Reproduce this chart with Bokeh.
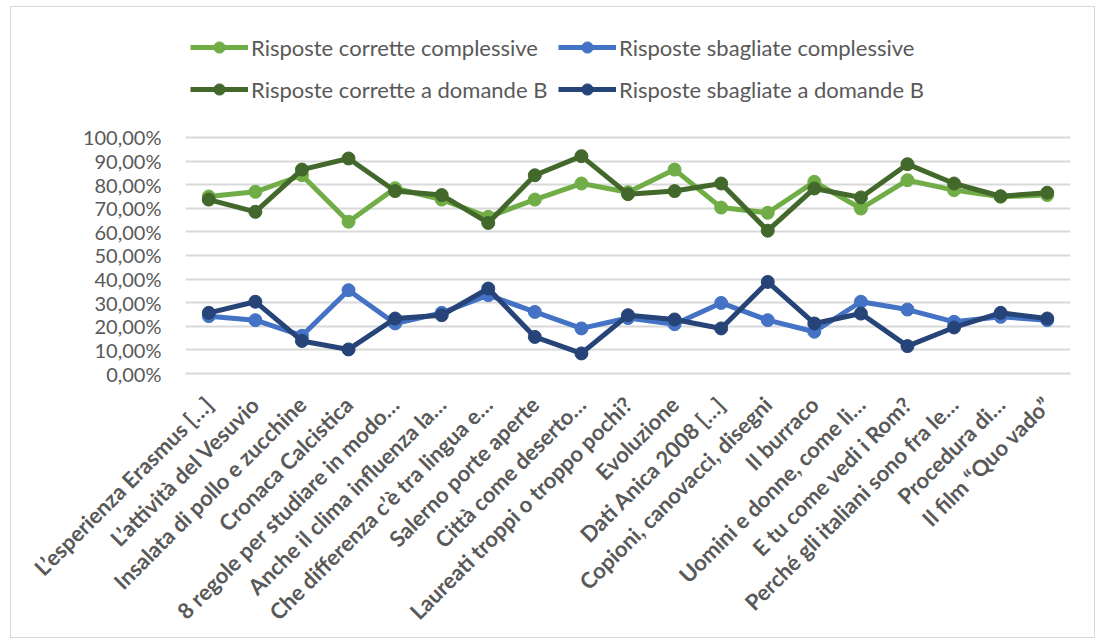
import math
from bokeh.plotting import figure
from bokeh.models import FactorRange, Range1d, FixedTicker, Legend, LegendItem
from bokeh.embed import file_html
from bokeh.resources import INLINE

categories = [
    "L’esperienza Erasmus […]",
    "L’attività del Vesuvio",
    "Insalata di pollo e zucchine",
    "Cronaca Calcistica",
    "8 regole per studiare in modo…",
    "Anche il clima influenza la…",
    "Che differenza c’è tra lingua e…",
    "Salerno porte aperte",
    "Città come deserto…",
    "Laureati troppi o troppo pochi?",
    "Evoluzione",
    "Dati Anica 2008 […]",
    "Copioni, canovacci, disegni",
    "Il burraco",
    "Uomini e donne, come li…",
    "E tu come vedi i Rom?",
    "Perché gli italiani sono fra le…",
    "Procedura di…",
    "Il film “Quo vado”",
]

corrette_complessive = [75.0, 77.0, 84.0, 64.3, 78.5, 73.7, 66.4, 73.7, 80.5, 76.8,
                        86.4, 70.3, 68.1, 81.2, 69.9, 81.9, 77.7, 74.9, 75.6]
sbagliate_complessive = [24.3, 22.6, 16.0, 35.3, 21.2, 25.7, 33.2, 26.1, 19.1, 23.5,
                         20.9, 29.9, 22.6, 17.7, 30.4, 27.1, 21.9, 24.0, 22.6]
corrette_B = [73.7, 68.5, 86.4, 91.1, 77.3, 75.6, 63.8, 84.0, 92.1, 76.0,
              77.3, 80.5, 60.5, 78.4, 74.6, 88.7, 80.5, 75.1, 76.6]
sbagliate_B = [25.7, 30.4, 13.8, 10.2, 23.3, 24.7, 36.0, 15.5, 8.5, 24.7,
               22.9, 19.1, 38.8, 21.2, 25.4, 11.6, 19.5, 25.7, 23.3]

series_names = ["Risposte corrette complessive", "Risposte sbagliate complessive",
                "Risposte corrette a domande B", "Risposte sbagliate a domande B"]
series_values = [corrette_complessive, sbagliate_complessive, corrette_B, sbagliate_B]
series_colors = ["#70AD47", "#4472C4", "#43682B", "#264478"]

ytick_values = [0, 10, 20, 30, 40, 50, 60, 70, 80, 90, 100]
ytick_labels = ["0,00%", "10,00%", "20,00%", "30,00%", "40,00%", "50,00%",
                "60,00%", "70,00%", "80,00%", "90,00%", "100,00%"]

# The frame extends above 100% so that the legend (drawn in the frame) is not clipped;
# only the 0-100% ticks / gridlines are shown.
p = figure(width=1083, height=630, output_backend="svg", toolbar_location=None,
           x_range=FactorRange(*categories), y_range=Range1d(0, 146.61),
           min_border_left=174, min_border_right=24, min_border_top=20,
           min_border_bottom=264)
p.margin = (7, 0, 0, 11)
p.styles = {"outline": "1.5px solid #D9D9D9"}
p.outline_line_color = None
p.background_fill_color = "white"
p.border_fill_color = "white"

p.xgrid.grid_line_color = None
p.ygrid.grid_line_color = "#D9D9D9"
p.ygrid.grid_line_width = 2

p.yaxis.ticker = FixedTicker(ticks=ytick_values)
p.yaxis.major_label_overrides = {v: l for v, l in zip(ytick_values, ytick_labels)}
p.yaxis.axis_line_color = None
p.yaxis.major_tick_line_color = None
p.yaxis.minor_tick_line_color = None
p.yaxis.major_tick_out = 0
p.yaxis.major_tick_in = 0
p.yaxis.major_label_standoff = 24
p.yaxis.major_label_text_font = "Lato"
p.yaxis.major_label_text_font_size = "20px"
p.yaxis.major_label_text_color = "#595959"

p.xaxis.axis_line_color = "#D9D9D9"
p.xaxis.axis_line_width = 2
p.xaxis.major_tick_line_color = None
p.xaxis.major_tick_out = 0
p.xaxis.major_tick_in = 0
p.xaxis.major_label_orientation = math.pi / 4
p.xaxis.major_label_standoff = 27
p.xaxis.major_label_text_font = "Lato"
p.xaxis.major_label_text_font_size = "22px"
p.xaxis.major_label_text_font_style = "bold"
p.xaxis.major_label_text_color = "#595959"

items = []
for name, vals, col in zip(series_names, series_values, series_colors):
    lr = p.line(categories, vals, line_color=col, line_width=5)
    sr = p.scatter(categories, vals, size=13, fill_color=col, line_color=col)
    items.append(LegendItem(label=name, renderers=[lr, sr]))

common = dict(orientation="vertical", glyph_width=58, glyph_height=28, label_height=28,
              spacing=14, padding=0, margin=0, label_standoff=3,
              border_line_alpha=0, background_fill_alpha=0,
              label_text_font="Lato", label_text_font_size="22px",
              label_text_color="#595959")
leg1 = Legend(items=[items[0], items[2]], location=(5, 270), **common)
leg2 = Legend(items=[items[1], items[3]], location=(373, 270), **common)
p.add_layout(leg1)
p.add_layout(leg2)

open("out.html", "w").write(file_html(p, INLINE))
